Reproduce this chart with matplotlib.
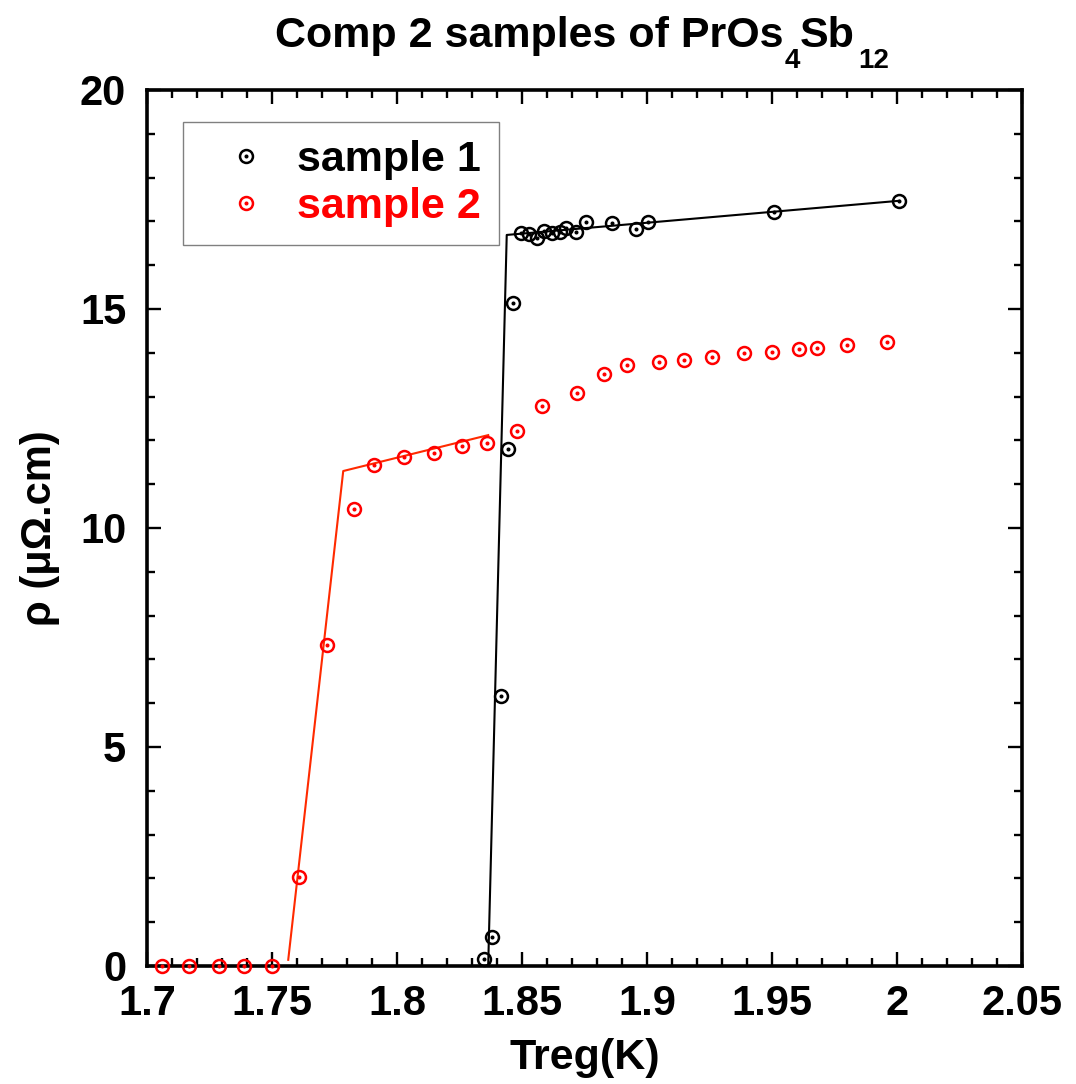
import matplotlib
matplotlib.use("Agg")
import matplotlib.pyplot as plt
from matplotlib.lines import Line2D

# sample 1 (black)
t1 = [1.8347, 1.8381, 1.8415, 1.8444, 1.8466, 1.8495, 1.8528, 1.8559, 1.8589,
      1.8621, 1.8652, 1.8676, 1.8716, 1.8755, 1.886, 1.8956, 1.9003, 1.9509, 2.0009]
r1 = [0.16, 0.66, 6.17, 11.80, 15.14, 16.73, 16.71, 16.61, 16.78,
      16.73, 16.76, 16.84, 16.75, 16.99, 16.96, 16.83, 16.99, 17.21, 17.46]
# fit line sample 1
fit1_t = [1.8365, 1.8439, 2.0009]
fit1_r = [0.05, 16.69, 17.47]

# sample 2 (red)
t2 = [1.706, 1.717, 1.729, 1.739, 1.750, 1.761, 1.772, 1.783, 1.791, 1.803,
      1.815, 1.826, 1.836, 1.848, 1.858, 1.872, 1.883, 1.892, 1.905, 1.915,
      1.926, 1.939, 1.950, 1.961, 1.968, 1.980, 1.996]
r2 = [0.0, 0.0, 0.0, 0.0, 0.0, 2.03, 7.33, 10.43, 11.44, 11.62,
      11.71, 11.87, 11.94, 12.21, 12.79, 13.08, 13.52, 13.72, 13.79, 13.84,
      13.90, 14.00, 14.02, 14.09, 14.11, 14.18, 14.25]
# fit line sample 2
fit2_t = [1.7565, 1.7785, 1.8365]
fit2_r = [0.14, 11.30, 12.12]

plt.rcParams['font.family'] = ['Liberation Sans', 'DejaVu Sans']
plt.rcParams['font.weight'] = 'bold'

fig = plt.figure(figsize=(10.76, 10.84), dpi=100)
ax = fig.add_axes([0.1366, 0.1089, 0.8132, 0.8081])

ax.plot(fit1_t, fit1_r, color='black', lw=1.5, zorder=2)
ax.plot(fit2_t, fit2_r, color='#ff2a00', lw=1.5, zorder=2)

for t, r, c in [(t1, r1, 'black'), (t2, r2, 'red')]:
    ax.plot(t, r, 'o', ms=9.3, mfc='none', mec=c, mew=1.8, zorder=3, clip_on=False)
    ax.plot(t, r, 'o', ms=1.9, mfc=c, mec=c, zorder=3, clip_on=False)

ax.set_xlim(1.7, 2.05)
ax.set_ylim(0, 20)
ax.set_xticks([1.7, 1.75, 1.8, 1.85, 1.9, 1.95, 2.0, 2.05])
ax.set_xticklabels(['1.7', '1.75', '1.8', '1.85', '1.9', '1.95', '2', '2.05'])
ax.set_xticks([1.7 + 0.01 * i for i in range(36)], minor=True)
ax.set_yticks([0, 5, 10, 15, 20])
ax.set_yticks(range(21), minor=True)

ax.tick_params(which='both', direction='in', top=True, right=True, width=1.7)
ax.tick_params(which='major', length=10, labelsize=30)
ax.tick_params(which='minor', length=6)
ax.tick_params(axis='x', which='major', pad=13)
ax.tick_params(axis='y', which='major', pad=15)
for s in ax.spines.values():
    s.set_linewidth(2.6)

ax.set_xlabel('Treg(K)', fontsize=31, fontweight='bold', labelpad=10)
ax.set_ylabel('ρ (μΩ.cm)', fontsize=30, fontweight='bold', labelpad=14)

# title with dropped subscripts
main = fig.text(275 / 1076, 1 - 47 / 1084, 'Comp 2 samples of PrOs',
                ha='left', va='baseline', fontsize=31, fontweight='bold')
s4 = ax.annotate('4', xy=(1, 0), xycoords=main, xytext=(1, -8.6),
                 textcoords='offset points', ha='left', va='baseline',
                 fontsize=20, fontweight='bold', annotation_clip=False)
sb = ax.annotate('Sb', xy=(1, 0), xycoords=(s4, main), xytext=(0, 6.5),
                 textcoords='offset points', ha='left', va='baseline',
                 fontsize=31, fontweight='bold', annotation_clip=False)
s12 = ax.annotate('12', xy=(1, 0), xycoords=(sb, main), xytext=(2, -8.6),
                  textcoords='offset points', ha='left', va='baseline',
                  fontsize=20, fontweight='bold', annotation_clip=False)

h1 = Line2D([], [], marker='o', ls='none', ms=9.3, mfc='none', mec='black', mew=1.8)
h2 = Line2D([], [], marker='o', ls='none', ms=9.3, mfc='none', mec='red', mew=1.8)
d1 = Line2D([], [], marker='o', ls='none', ms=1.9, mfc='black', mec='black')
d2 = Line2D([], [], marker='o', ls='none', ms=1.9, mfc='red', mec='red')
leg = ax.legend([(h1, d1), (h2, d2)], ['sample 1', 'sample 2'], loc='upper left',
                bbox_to_anchor=(0.0411, 0.9635), borderaxespad=0,
                fancybox=False, framealpha=1, edgecolor='gray',
                handletextpad=0.15, borderpad=0.42, labelspacing=0.17,
                handlelength=2.08,
                prop={'family': ['Liberation Sans', 'DejaVu Sans'],
                      'weight': 'bold', 'size': 31})
leg.get_frame().set_linewidth(1)
leg.get_texts()[1].set_color('red')

fig.savefig('out.png', dpi=100)
